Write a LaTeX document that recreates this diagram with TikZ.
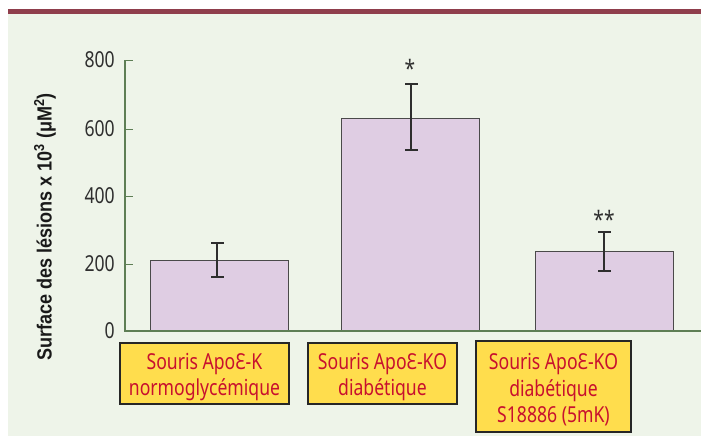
\documentclass[tikz,border=0pt]{standalone}
\usepackage{fontspec}
\setmainfont[FakeStretch=0.80]{Noto Sans}
\newfontfamily\boldsans[FakeStretch=0.88]{Liberation Sans}
\usepackage{xcolor}
\definecolor{bgc}{HTML}{EEF4E9}
\definecolor{maroon}{HTML}{8F3E4C}
\definecolor{axisc}{HTML}{5E7E55}
\definecolor{barc}{HTML}{DFCDE3}
\definecolor{barline}{HTML}{4A4A4A}
\definecolor{boxc}{HTML}{FFDD4D}
\definecolor{boxtext}{HTML}{C8102E}
\definecolor{txt}{HTML}{2E2E2E}
\newcommand{\topstrut}{\rule{0pt}{23pt}}
\tikzset{
  bar/.style={fill=barc, draw=barline, line width=1pt},
  errbar/.style={draw=txt, line width=1.1pt},
  labelbox/.style={fill=boxc, draw=black!85, line width=1.3pt, text=boxtext, align=center, inner sep=0pt,
     font=\fontsize{22}{26.5}\selectfont},
  ticklab/.style={anchor=east, text=txt, font=\fontsize{22}{24}\selectfont, inner sep=0pt},
  star/.style={text=txt, font=\fontsize{24}{24}\selectfont, inner sep=0pt}
}
\begin{document}
\begin{tikzpicture}[x=1pt,y=-1pt]
\useasboundingbox (0,0) rectangle (701,437);
\fill[white] (0,0) rectangle (701,437);
\fill[bgc] (8,14) rectangle (701,436);
\fill[maroon] (8,9) rectangle (701,14);
% bars
\draw[bar] (150,331) rectangle (288,260);
\draw[bar] (341,331) rectangle (479,118);
\draw[bar] (535,331) rectangle (673,251);
% axes
\draw[axisc, line width=1.2pt] (125,60) -- (125,331) -- (701,331);
\foreach \y/\v in {60/800,129/600,196/400,264/200,331/0}{
  \draw[axisc, line width=1pt] (125,\y) -- (133,\y);
  \node[ticklab] at (115,\y) {\v};
}
% error bars
\draw[errbar] (217,243) -- (217,277) (211,243) -- (224,243) (211,277) -- (224,277);
\draw[errbar] (411,84) -- (411,150) (405,84) -- (418,84) (405,150) -- (418,150);
\draw[errbar] (604,232) -- (604,271) (598,232) -- (611,232) (598,271) -- (611,271);
\node[star] (s1) at (410,68) {*};
\node[star] (s2) at (604,219) {**};
% y label
\node[rotate=90, text=black!90, font=\boldsans\bfseries\fontsize{20.5}{22}\selectfont, inner sep=0pt] (ylab) at (45,227)
  {Surface des lésions x 10\textsuperscript{3} (μM\textsuperscript{2})};
% label boxes
\node[labelbox, minimum width=169pt, minimum height=61pt] (b1) at (204.5,373.5)
  {\topstrut Souris ApoƐ-K\\normoglycémique};
\node[labelbox, minimum width=149pt, minimum height=61pt] (b2) at (382.5,373.5)
  {\topstrut Souris ApoƐ-KO\\diabétique};
\node[labelbox, minimum width=155pt, minimum height=91pt] (b3) at (553.5,386.5)
  {\topstrut Souris ApoƐ-KO\\diabétique\\S18886 (5mK)};
\end{tikzpicture}
\end{document}
